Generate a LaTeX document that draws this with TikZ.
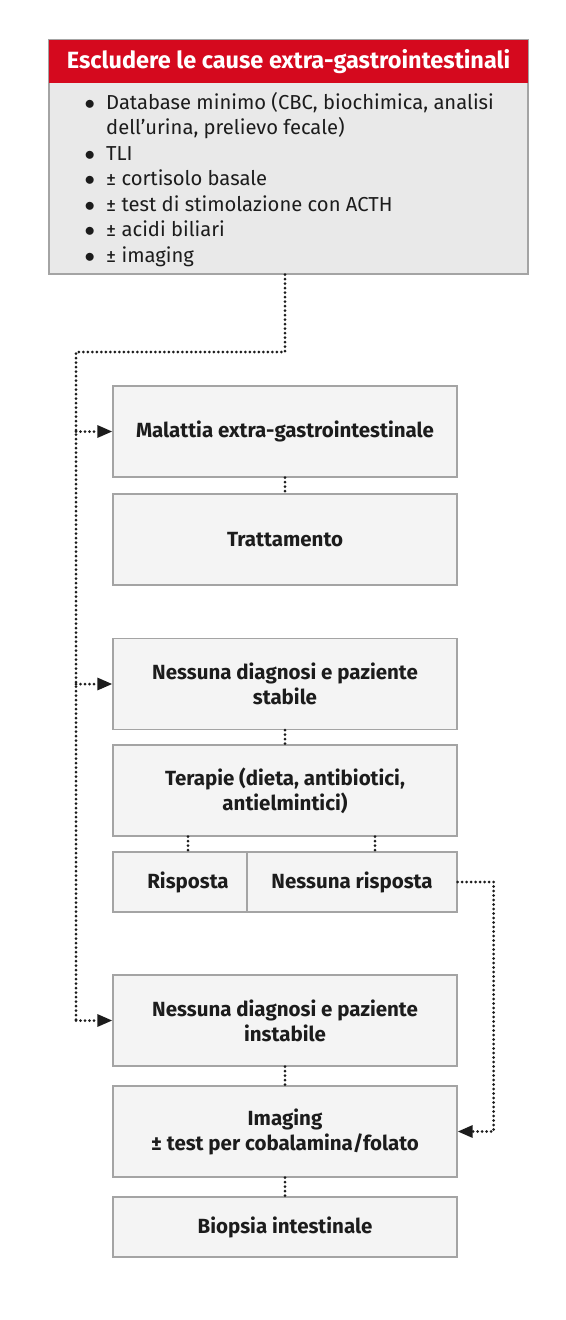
\documentclass[tikz,border=0pt]{standalone}
\usepackage{fontspec}
\setmainfont{Fira Sans}
\usetikzlibrary{arrows.meta}

\definecolor{redhead}{HTML}{D5091E}
\definecolor{boxfill}{HTML}{F4F4F4}
\definecolor{bodyfill}{HTML}{E9E9E9}
\definecolor{boxline}{HTML}{A4A4A4}
\definecolor{ink}{HTML}{1C1C1C}

\tikzset{
	box/.style = {draw = boxline, fill = boxfill, line width = 1.3pt, minimum width = 344pt, minimum height = 91pt, align = center, text = ink, font = \bfseries\fontsize{20.5}{25}\selectfont},
	rowbox/.style = {box, minimum height = 60pt},
	dots/.style = {draw = ink, line width = 3pt, line cap = round, dash pattern = on 0pt off 4.5pt},
	arr/.style = {dots, -{Triangle[length = 15pt, width = 12pt]}}
}
\newcommand{\itm}{\makebox[22pt][l]{\hspace{0.5pt}$\bullet$}}

\begin{document}
\begin{tikzpicture}[x = 1pt, y = -1pt]
	\useasboundingbox (0,0) rectangle (565,1320);
	\node [draw = boxline, fill = bodyfill, line width = 1.3pt, minimum width = 479pt, minimum height = 234pt] (top) at (288.5,157) {};
	\node [fill = redhead, minimum width = 479pt, minimum height = 43pt, text = white, font = \bfseries\fontsize{23.5}{24}\selectfont] (head) at (288.5,61.5) {Escludere le cause extra-gastrointestinali};
	\node [anchor = north west, align = left, text = ink, inner sep = 0pt, font = \fontsize{20.2}{25.5}\selectfont] (list) at (84,92) {\itm Database minimo (CBC, biochimica, analisi\\ \hspace*{22pt}dell'urina, prelievo fecale)\\ \itm TLI\\ \itm ± cortisolo basale\\ \itm ± test di stimolazione con ACTH\\ \itm ± acidi biliari\\ \itm ± imaging};
	\node [box] (b1) at (285,431.5) {Malattia extra-gastrointestinale};
	\node [box] (b2) at (285,539.5) {Trattamento};
	\node [box] (b3) at (285,684) {Nessuna diagnosi e paziente\\stabile};
	\node [box] (b4) at (285,790.5) {Terapie (dieta, antibiotici,\\antielmintici)};
	\node [rowbox, minimum width = 134pt] (ris) at (180,882) {\hspace*{16pt}Risposta};
	\node [rowbox, minimum width = 210pt] (nris) at (352,882) {Nessuna risposta};
	\node [box] (b5) at (285,1020.5) {Nessuna diagnosi e paziente\\instabile};
	\node [box] (b6) at (285,1131.5) {Imaging\\± test per cobalamina/folato};
	\node [rowbox] (b7) at (285,1227) {Biopsia intestinale};
	\coordinate (rail) at (76,352);
	\coordinate (lt) at (188,0);
	\coordinate (rt) at (375,0);
	\draw [dots] (top.south -| b1.north) |- (rail) -- (rail |- b5.west);
	\draw [arr] (rail |- b1.west) -- (b1.west);
	\draw [arr] (rail |- b3.west) -- (b3.west);
	\draw [arr] (rail |- b5.west) -- (b5.west);
	\draw [dots] (b1.south) -- (b2.north);
	\draw [dots] (b3.south) -- (b4.north);
	\draw [dots] (b4.south -| lt) -- (ris.north -| lt);
	\draw [dots] (b4.south -| rt) -- (nris.north -| rt);
	\draw [arr] (nris.east) -| ([xshift = 36pt]b6.east) -- (b6.east);
	\draw [dots] (b5.south) -- (b6.north);
	\draw [dots] (b6.south) -- (b7.north);
\end{tikzpicture}
\end{document}
